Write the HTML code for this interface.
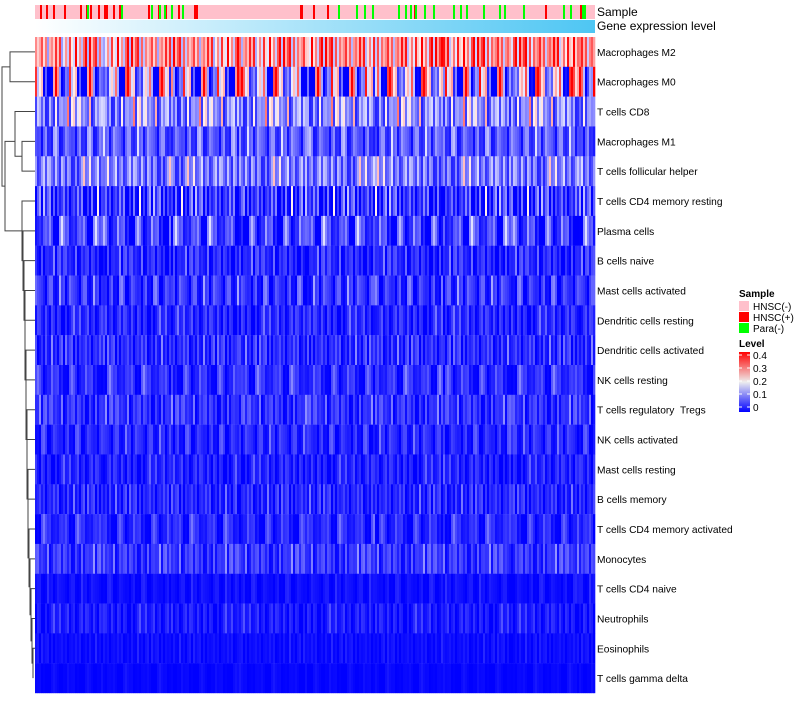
<!DOCTYPE html>
<html><head><meta charset="utf-8"><style>
body{margin:0;background:#fff;font-family:"Liberation Sans",sans-serif}
svg text{font-family:"Liberation Sans",sans-serif;white-space:pre}
</style></head><body>
<svg id="c" width="800" height="700"></svg>
<script>
const rowNames=["Macrophages M2","Macrophages M0","T cells CD8","Macrophages M1","T cells follicular helper","T cells CD4 memory resting","Plasma cells","B cells naive","Mast cells activated","Dendritic cells resting","Dendritic cells activated","NK cells resting","T cells regulatory\u00a0\u00a0Tregs","NK cells activated","Mast cells resting","B cells memory","T cells CD4 memory activated","Monocytes","T cells CD4 naive","Neutrophils","Eosinophils","T cells gamma delta"];
const rowMeans=[0.25,0.12,0.12,0.07,0.1,0.04,0.05,0.03,0.04,0.03,0.035,0.035,0.04,0.03,0.025,0.03,0.03,0.045,0.01,0.02,0.01,0.004];
const rowSpread=[0.12,0.2,0.09,0.06,0.07,0.08,0.07,0.04,0.05,0.035,0.04,0.04,0.04,0.035,0.03,0.035,0.035,0.04,0.015,0.025,0.012,0.008];
const colPattern=[0.3,-0.8,0.9,-0.2,0.5,-1,0.1,1.2,-0.5,0.7,-0.9,0.2,-0.3,1.5,-0.7,0.4,-0.1,0.8,-1,0.6,-0.4,0.0,1.0,-0.6,0.3,-0.9,2.0,-0.2,0.5,-0.5,0.9,-0.8,0.2,-0.1];
const hnscPos=[5,11,18,29,45,51,55,63,69,71,78,84,113,123,130,143,159,160,161,265,266,278,292,379,510,545,546];
const paraPos=[52,86,116,124,129,136,147,303,321,329,337,363,370,375,380,389,398,418,425,431,448,464,469,488,528,535,547,549];
const levelTicks=["0.4","0.3","0.2","0.1","0"];
const svg=document.getElementById('c');const NS='http://www.w3.org/2000/svg';
function el(t,a,p){const e=document.createElementNS(NS,t);for(const k in a)e.setAttribute(k,a[k]);(p||svg).appendChild(e);return e;}
const X0=35,X1=595,Y0=37,Y1=693,NC=280,cw=(X1-X0)/NC,rh=(Y1-Y0)/rowNames.length;
function col(v){v=Math.max(0,Math.min(0.4,v));let r,g,b;if(v<0.2){const t=v/0.2;r=g=Math.round(255*t*0.93);b=255;}else{const t=(v-0.2)/0.2;r=255;g=b=Math.round(238*(1-t));}return`rgb(${r},${g},${b})`;}
const sb=el('rect',{x:X0,y:5,width:X1-X0,height:14,fill:'#FFC0CB'});

hnscPos.forEach(p=>{const r=el('rect',{x:X0+p,y:5,width:2,height:14,fill:'#f00'});});
paraPos.forEach(p=>{const r=el('rect',{x:X0+p,y:5,width:2,height:14,fill:'#0f0'});});
const defs=el('defs',{});
const lg=el('linearGradient',{id:'ge',x1:0,x2:1,y1:0,y2:0},defs);
el('stop',{offset:0,'stop-color':'#ffffff'},lg);el('stop',{offset:1,'stop-color':'#4ec6f3'},lg);
const lg2=el('linearGradient',{id:'lv',x1:0,x2:0,y1:0,y2:1},defs);
[['0','#f00'],['0.5','#eeeeee'],['1','#00f']].forEach(s=>el('stop',{offset:s[0],'stop-color':s[1]},lg2));
const gb=el('rect',{x:X0,y:20,width:X1-X0,height:13,fill:'url(#ge)'});

[['Sample',16],['Gene expression level',30]].forEach(t=>{const e=el('text',{x:597,y:t[1],'font-size':12,fill:'#000'});e.textContent=t[0];});
rowNames.forEach((n,i)=>{const g=el('g',{});
 const y=Y0+i*rh;const L=colPattern.length;
 for(let j=0;j<NC;j++){const k=(j*(i%5+3)+i*7+Math.floor(j/L)*5)%L;let v=rowMeans[i]+rowSpread[i]*colPattern[k];
  if(i<2)v+=0.04*(j/NC);el('rect',{x:X0+j*cw,y:y,width:cw+0.3,height:rh+0.2,fill:col(v)},g);}
 const t=el('text',{x:597,y:y+rh/2+4,'font-size':10.2,fill:'#000'});t.textContent=n;});
const dg=el('g',{stroke:'#444','stroke-width':1,fill:'none'});
const cy=i=>Y0+rh*(i+0.5);
function U(x,ya,yb,xa,xb){el('path',{d:`M${xa},${ya}H${x}V${yb}H${xb}`},dg);}
U(10,cy(0),cy(1),35,35);let m01=(cy(0)+cy(1))/2;
U(22,cy(3),cy(4),35,35);U(15,cy(2),(cy(3)+cy(4))/2,35,22);
let prevY=cy(21),prevX=33;
const xs=[33,32,31,30,29,28,28,27,27,26,26,25,25,24,23,22,20,18];
for(let i=20;i>=5;i--){const x=xs[20-i]||18;U(x,cy(i),prevY,35,prevX);prevY=(cy(i)+prevY)/2;prevX=x;}
U(5,(cy(2)+cy(4))/2,prevY,15,prevX);let yR=((cy(2)+cy(4))/2+prevY)/2;
U(2,m01,yR,10,5);
const lgG=el('g',{});
let t=el('text',{x:739,y:297,'font-size':10,'font-weight':'bold'},lgG);t.textContent='Sample';
[['HNSC(-)','#FFC0CB'],['HNSC(+)','#f00'],['Para(-)','#0f0']].forEach((s,i)=>{el('rect',{x:739,y:301+i*11,width:10,height:10,fill:s[1]},lgG);
 const tx=el('text',{x:753,y:310+i*11,'font-size':10},lgG);tx.textContent=s[0];});
t=el('text',{x:739,y:347,'font-size':10,'font-weight':'bold'},lgG);t.textContent='Level';
el('rect',{x:739,y:352,width:11,height:60,fill:'url(#lv)'},lgG);
levelTicks.forEach((s,i)=>{const y=355+i*13;el('line',{x1:739,x2:742,y1:y,y2:y,stroke:'#fff'},lgG);el('line',{x1:747,x2:750,y1:y,y2:y,stroke:'#fff'},lgG);
 const tx=el('text',{x:753,y:y+4,'font-size':10},lgG);tx.textContent=s;});
</script></body></html>
